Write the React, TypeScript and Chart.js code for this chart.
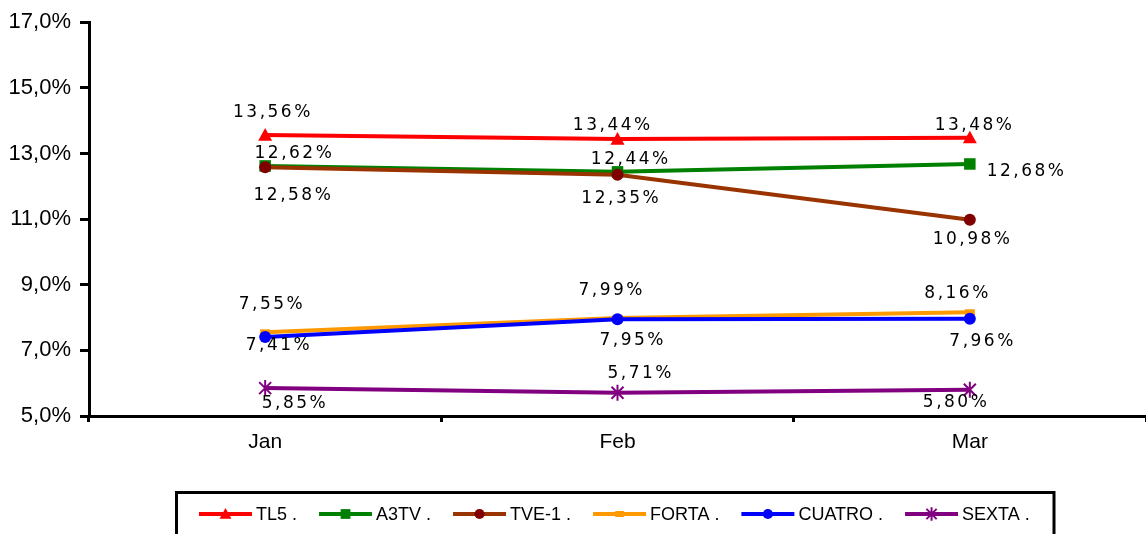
import React, { useEffect, useRef } from "react";
import { Chart, registerables } from "chart.js";

Chart.register(...registerables);

const MONTHS = ["Jan", "Feb", "Mar"];
const SERIES_NAMES = ["TL5 .", "A3TV .", "TVE-1 .", "FORTA .", "CUATRO .", "SEXTA ."];
const TL5 = [13.56, 13.44, 13.48];
const A3TV = [12.62, 12.44, 12.68];
const TVE1 = [12.58, 12.35, 10.98];
const FORTA = [7.55, 7.99, 8.16];
const CUATRO = [7.41, 7.95, 7.96];
const SEXTA = [5.85, 5.71, 5.8];
const Y_MIN = 5;
const Y_MAX = 17;
const Y_STEP = 2;

// styling (not data)
const LINE_COLORS = ["#FF0000", "#008000", "#993300", "#FF9900", "#0000FF", "#800080"];
const MARKER_COLORS = ["#FF0000", "#008000", "#800000", "#FF9900", "#0000FF", "#800080"];
const MARKERS = ["triangle", "rect", "circle", "dash", "circle", "star"];
const MARKER_RADII = [7, 8, 6, 5, 6, 8];
// data-label offsets from each point, in px [dx, dy]
const LABEL_OFFSETS = [
  [[6.5, -24.5], [-6, -15], [3.5, -13.5]],
  [[28, -14.5], [12, -14.5], [55.5, 5.5]],
  [[27, 26.5], [2.5, 22], [1.5, 18.5]],
  [[5.5, -30], [-7, -29.5], [-13.5, -20.5]],
  [[12.5, 7], [14, 19.5], [11.5, 21]],
  [[28.5, 13.5], [22, -20.5], [-15, 11.5]],
];

const fmtPct = (v: number, d: number) => v.toFixed(d).replace(".", ",") + "%";

function drawMarker(ctx: CanvasRenderingContext2D, kind: string, x: number, y: number, r: number, color: string) {
  ctx.save();
  ctx.fillStyle = color;
  ctx.strokeStyle = color;
  ctx.beginPath();
  if (kind === "triangle") {
    ctx.moveTo(x, y - r);
    ctx.lineTo(x + r, y + r * 0.8);
    ctx.lineTo(x - r, y + r * 0.8);
    ctx.closePath();
    ctx.fill();
  } else if (kind === "rect") {
    const s = r * 0.72;
    ctx.rect(x - s, y - s, 2 * s, 2 * s);
    ctx.fill();
  } else if (kind === "circle") {
    ctx.arc(x, y, r, 0, Math.PI * 2);
    ctx.fill();
  } else if (kind === "dash") {
    ctx.rect(x - r, y - 3, 2 * r, 6);
    ctx.fill();
  } else if (kind === "star") {
    ctx.lineWidth = 2;
    ctx.moveTo(x, y - r);
    ctx.lineTo(x, y + r);
    const d = r * 0.75;
    ctx.moveTo(x - d, y - d);
    ctx.lineTo(x + d, y + d);
    ctx.moveTo(x - d, y + d);
    ctx.lineTo(x + d, y - d);
    ctx.stroke();
  }
  ctx.restore();
}

const seriesPlugin = {
  id: "customDraw",
  afterDatasetsDraw(chart: any) {
    const ctx: CanvasRenderingContext2D = chart.ctx;
    chart.data.datasets.forEach((ds: any, i: number) => {
      const meta = chart.getDatasetMeta(i);
      meta.data.forEach((pt: any) => {
        drawMarker(ctx, MARKERS[i], pt.x, pt.y, MARKER_RADII[i], MARKER_COLORS[i]);
      });
    });
    ctx.save();
    ctx.font = '17px "DejaVu Sans"';
    (ctx as any).letterSpacing = "2.5px";
    ctx.fillStyle = "#000";
    ctx.textAlign = "center";
    ctx.textBaseline = "alphabetic";
    chart.data.datasets.forEach((ds: any, i: number) => {
      const meta = chart.getDatasetMeta(i);
      meta.data.forEach((pt: any, j: number) => {
        const [dx, dy] = LABEL_OFFSETS[i][j];
        ctx.fillText(fmtPct(ds.data[j], 2), pt.x + dx + 1.25, pt.y + dy + 6.2);
      });
    });
    ctx.restore();
  },
  afterDraw(chart: any) {
    const ctx: CanvasRenderingContext2D = chart.ctx;
    ctx.save();
    ctx.strokeStyle = "#000";
    ctx.lineWidth = 3;
    ctx.strokeRect(176.5, 492.5, 1054 - 176.5, 60);
    ctx.font = '18px "Liberation Sans", Arial, sans-serif';
    ctx.textBaseline = "middle";
    ctx.textAlign = "left";
    let x = 199;
    const y = 514;
    SERIES_NAMES.forEach((name, i) => {
      ctx.strokeStyle = LINE_COLORS[i];
      ctx.lineWidth = 4;
      ctx.beginPath();
      ctx.moveTo(x, y);
      ctx.lineTo(x + 53, y);
      ctx.stroke();
      drawMarker(ctx, MARKERS[i], x + 26.5, y, MARKER_RADII[i] * 0.85, MARKER_COLORS[i]);
      ctx.fillStyle = "#000";
      ctx.fillText(name, x + 57, y + 1);
      x = x + 57 + ctx.measureText(name).width + 22;
    });
    ctx.restore();
  },
};

export default function App() {
  const ref = useRef<HTMLCanvasElement>(null);
  useEffect(() => {
    if (!ref.current) return;
    const seriesData = [TL5, A3TV, TVE1, FORTA, CUATRO, SEXTA];
    const chart = new Chart(ref.current, {
      type: "line",
      data: {
        labels: MONTHS,
        datasets: seriesData.map((d, i) => ({
          label: SERIES_NAMES[i],
          data: d,
          borderColor: LINE_COLORS[i],
          backgroundColor: LINE_COLORS[i],
          borderWidth: 4,
          pointRadius: 0,
          pointHoverRadius: 0,
          fill: false,
          tension: 0,
          order: 6 - i,
        })),
      },
      options: {
        responsive: false,
        animation: false,
        devicePixelRatio: 1,
        events: [],
        layout: { padding: { top: 22, right: 0, left: 0, bottom: 0 } },
        plugins: { legend: { display: false }, tooltip: { enabled: false } },
        scales: {
          x: {
            offset: true,
            grid: {
              display: true,
              offset: true,
              drawOnChartArea: false,
              drawTicks: true,
              tickLength: 6,
              tickWidth: 3,
              tickColor: "#000",
            },
            border: { display: true, color: "#000", width: 3 },
            ticks: {
              color: "#000",
              padding: 8,
              font: { family: '"Liberation Sans", Arial, sans-serif', size: 21 },
            },
            afterFit: (s: any) => {
              s.height = 118;
            },
          },
          y: {
            min: Y_MIN,
            max: Y_MAX,
            grid: {
              display: true,
              drawOnChartArea: false,
              drawTicks: true,
              tickLength: 9,
              tickWidth: 3,
              tickColor: "#000",
            },
            border: { display: true, color: "#000", width: 3 },
            ticks: {
              stepSize: Y_STEP,
              color: "#000",
              padding: 9,
              font: { family: '"Liberation Sans", Arial, sans-serif', size: 22 },
              callback: (v: any) => fmtPct(Number(v), 1),
            },
            afterFit: (s: any) => {
              s.width = 89;
            },
          },
        },
      },
      plugins: [seriesPlugin],
    });
    return () => chart.destroy();
  }, []);
  return (
    <div style={{ position: "absolute", left: 0, top: 0, width: 1146, height: 534, background: "#fff" }}>
      <canvas ref={ref} width={1146} height={534} style={{ display: "block" }} />
    </div>
  );
}
